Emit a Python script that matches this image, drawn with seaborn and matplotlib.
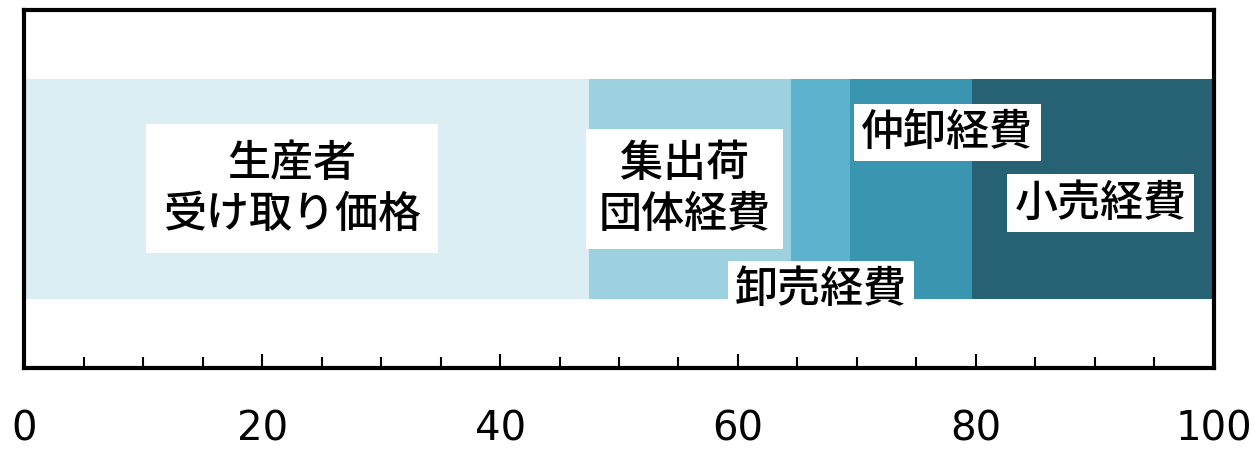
import pandas as pd
import numpy as np
import matplotlib
matplotlib.use('Agg')
import matplotlib.pyplot as plt
import seaborn as sns

# Data: share of retail price (%)
categories = ['生産者\n受け取り価格', '集出荷\n団体経費', '卸売経費', '仲卸経費', '小売経費']
shares = [47.5, 17.0, 4.9, 10.3, 20.3]
colors = ['#DAEEF3', '#9DD1DF', '#5DB3CB', '#3A96B0', '#266273']
xticks = [0, 20, 40, 60, 80, 100]

sns.set_theme(style='white')
plt.rcParams['font.family'] = ['Noto Sans CJK JP', 'DejaVu Sans']

fig = plt.figure(figsize=(12.55, 4.51), dpi=100)
ax = fig.add_axes([0.0195, 0.184, 0.9475, 0.794])

cum = np.cumsum(shares)
# stacked bar: draw cumulative totals from largest to smallest
for total, c in zip(cum[::-1], colors[::-1]):
    sns.barplot(x=[total], y=[''], color=c, width=0.612, saturation=1,
                orient='h', linewidth=0, ax=ax)

ax.set_xlim(0, 100)
ax.set_ylim(0.5, -0.5)

# label positions (x in data, y in bar units)
label_pos = [(22.5, 0.0, 0.4), (55.5, 0.0, 0.3), (67.0, 0.282, 0.17),
             (77.6, -0.158, 0.17), (90.5, 0.04, 0.17)]
for name, (lx, ly, pad) in zip(categories, label_pos):
    ax.text(lx, ly, name, ha='center', va='center', fontsize=31,
            linespacing=1.25, color='black', fontweight='medium',
            bbox=dict(facecolor='white', edgecolor='none', boxstyle=f'square,pad={pad}'))

ax.set_xticks(xticks)
ax.set_xticks(np.arange(0, 101, 5), minor=True)
ax.set_xticklabels([str(t) for t in xticks], family='DejaVu Sans', fontsize=29, color='black')
ax.tick_params(axis='x', which='major', direction='in', length=10, width=1.5,
               color='black', pad=30, bottom=True)
ax.tick_params(axis='x', which='minor', direction='in', length=8, width=1.5,
               color='black', bottom=True)
ax.set_yticks([])
ax.set_xlabel('')
ax.set_ylabel('')
for s in ax.spines.values():
    s.set_visible(True)
    s.set_color('black')
    s.set_linewidth(3)

fig.savefig('out.png', dpi=100, facecolor='white')
